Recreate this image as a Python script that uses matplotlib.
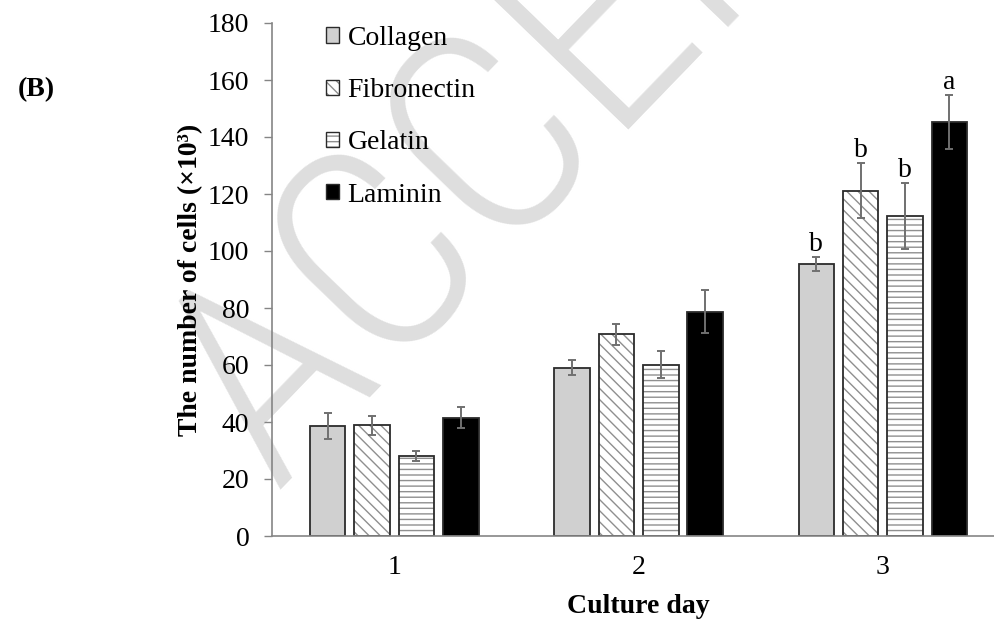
import matplotlib.pyplot as plt
import numpy as np
from matplotlib.patches import Patch

# data (number of cells, x10^3)
days = ["1", "2", "3"]
materials = ["Collagen", "Fibronectin", "Gelatin", "Laminin"]

collagen = [38.6, 59.1, 95.4]
collagen_err = [4.5, 2.7, 2.5]
fibronectin = [38.9, 70.8, 121.2]
fibronectin_err = [3.3, 3.7, 9.7]
gelatin = [28.2, 60.1, 112.3]
gelatin_err = [1.8, 4.7, 11.6]
laminin = [41.5, 78.7, 145.4]
laminin_err = [3.7, 7.6, 9.5]

# significance letters (day 3 only)
letters_day3 = ["b", "b", "b", "a"]

plt.rcParams["font.family"] = ["Liberation Serif", "DejaVu Serif"]
plt.rcParams["hatch.linewidth"] = 1.0

fig = plt.figure(figsize=(9.95, 6.25), dpi=100)

# watermark behind everything
fig.text(0.2784, 0.210, "ACCEPTED MANUSCRIPT", rotation=46, rotation_mode="anchor",
         ha="left", va="baseline", fontsize=207, color="#dedede",
         family=["Roboto Condensed", "Liberation Sans Narrow", "Liberation Sans"],
         fontstretch="condensed", fontweight="light", zorder=-5)

ax = fig.add_axes([0.2734, 0.1424, 0.7367, 0.8208])
ax.set_facecolor("none")

series = [collagen, fibronectin, gelatin, laminin]
errors = [collagen_err, fibronectin_err, gelatin_err, laminin_err]
fills = ["#d0d0d0", "white", "white", "black"]
hatches = [None, "\\\\\\", "---", None]
edge = "#2b2b2b"
hatch_col = "#8f8f8f"

x = np.arange(len(days))
pitch = 0.1816
width = 0.1455
handles = []
for i in range(4):
    pos = x + (i - 1.5) * pitch
    if hatches[i]:
        ax.bar(pos, series[i], width, color=fills[i], edgecolor=hatch_col,
               hatch=hatches[i], linewidth=0, zorder=2)
        ax.bar(pos, series[i], width, color="none", edgecolor=edge,
               linewidth=1.3, zorder=3)
        handles.append((Patch(facecolor="white", edgecolor=hatch_col, hatch=hatches[i], linewidth=0),
                        Patch(facecolor="none", edgecolor=edge, linewidth=1.0)))
    else:
        ax.bar(pos, series[i], width, color=fills[i], edgecolor=edge,
               linewidth=1.3, zorder=3)
        handles.append(Patch(facecolor=fills[i], edgecolor=edge, linewidth=1.0))
    ax.errorbar(pos, series[i], yerr=errors[i], fmt="none", ecolor="#707070",
                elinewidth=1.4, capsize=3, capthick=1.4, zorder=4)
    # letter above the day-3 error bar
    ax.annotate(letters_day3[i], (pos[2], series[i][2] + errors[i][2]),
                xytext=(0, 4), textcoords="offset points",
                ha="center", va="baseline", fontsize=20)

ax.set_xlim(-0.5, 2.5)
ax.set_ylim(0, 180)
ax.set_yticks(range(0, 181, 20))
ax.set_xticks(x)
ax.set_xticklabels(days)

for s in ["top", "right"]:
    ax.spines[s].set_visible(False)
for s in ["left", "bottom"]:
    ax.spines[s].set_color("#858585")
    ax.spines[s].set_linewidth(1.2)
ax.spines["bottom"].set_zorder(5)

ax.tick_params(axis="y", length=5.8, width=1.0, color="#858585", labelsize=20, pad=10.5)
ax.tick_params(axis="x", length=0, labelsize=20, pad=14)

ax.set_ylabel("The number of cells (×10³)", fontsize=20, fontweight="bold")
ax.yaxis.label.set_va("center")
ax.yaxis.set_label_coords(-0.111, 0.5)
ax.set_xlabel("Culture day", fontsize=20, fontweight="bold")
ax.xaxis.label.set_va("center")
ax.xaxis.set_label_coords(0.5, -0.138)

ax.legend(handles, materials, loc="upper left", bbox_to_anchor=(326 / 995, 1 - 26 / 625),
          bbox_transform=fig.transFigure, frameon=False, fontsize=20,
          handlelength=0.47, handleheight=0.47, handletextpad=0.3, labelspacing=0.98,
          borderpad=0, borderaxespad=0)

fig.text(18 / 995, 1 - 90 / 625, "(B)", fontsize=20, fontweight="bold", va="center")

plt.savefig("out.png", dpi=100)
